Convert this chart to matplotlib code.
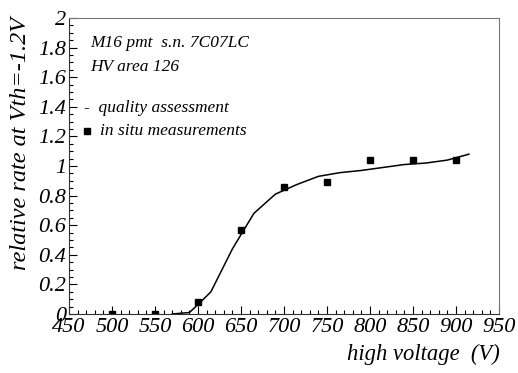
import matplotlib
matplotlib.use("Agg")
import matplotlib.pyplot as plt
from matplotlib.ticker import MultipleLocator

# in situ measurements
hv_meas = [500, 550, 600, 650, 700, 750, 800, 850, 900]
rate_meas = [0.0, 0.0, 0.08, 0.57, 0.86, 0.89, 1.04, 1.04, 1.04]

# quality assessment curve
hv_curve = [570, 590, 602, 615, 640, 665, 690, 715, 740, 765, 790, 815, 840, 865, 890, 915]
rate_curve = [0.0, 0.01, 0.075, 0.15, 0.44, 0.68, 0.81, 0.875, 0.93, 0.955, 0.97,
              0.99, 1.01, 1.02, 1.04, 1.08]

x_ticks = [450, 500, 550, 600, 650, 700, 750, 800, 850, 900, 950]
y_ticks = [0, 0.2, 0.4, 0.6, 0.8, 1, 1.2, 1.4, 1.6, 1.8, 2]
y_tick_labels = ['0', '0.2', '0.4', '0.6', '0.8', '1', '1.2', '1.4', '1.6', '1.8', '2']

plt.rcParams['font.family'] = ['Liberation Serif', 'DejaVu Serif']

fig = plt.figure(figsize=(5.18, 3.73), dpi=100)
ax = fig.add_axes([69/518, 1-314/373, 430/518, 296/373])

ax.plot(hv_curve, rate_curve, color='black', lw=1.1)
ax.plot(hv_meas, rate_meas, 's', color='black', ms=5)

ax.set_xlim(450, 950)
ax.set_ylim(0, 2)
ax.xaxis.set_minor_locator(MultipleLocator(10))
ax.yaxis.set_minor_locator(MultipleLocator(0.05))
ax.tick_params(which='both', direction='in', top=False, right=False)
ax.tick_params(which='major', length=6, width=0.8, pad=2)
ax.tick_params(axis='x', which='major', pad=3)
ax.tick_params(which='minor', length=3, width=0.8)
ax.set_yticks(y_ticks)
ax.set_yticklabels(y_tick_labels, fontstyle='italic', fontsize=16)
ax.set_xticks(x_ticks)
ax.set_xticklabels([str(v) for v in x_ticks], fontstyle='italic', fontsize=16)

for s in ['top', 'right']:
    ax.spines[s].set_color('#777777')
for s in ['left', 'bottom']:
    ax.spines[s].set_color('#333333')

fig.text(500/518, 1-354/373, 'high voltage  (V)', ha='right', va='center',
         fontsize=16.3, fontstyle='italic')
fig.text(21/518, 1-17/373, 'relative rate at Vth=-1.2V', rotation=90, ha='center',
         va='top', fontsize=17.5, fontstyle='italic')

kw = dict(fontsize=12.5, fontstyle='italic', va='center')
ax.text(0.05, 0.915, 'M16 pmt  s.n. 7C07LC', transform=ax.transAxes, **kw)
ax.text(0.05, 0.835, 'HV area 126', transform=ax.transAxes, **kw)
ax.text(0.035, 0.695, '-  quality assessment', transform=ax.transAxes, **kw)
ax.plot([0.042], [0.617], 's', color='black', ms=4, transform=ax.transAxes)
ax.text(0.072, 0.617, 'in situ measurements', transform=ax.transAxes, **kw)

fig.savefig('out.png', dpi=100)
